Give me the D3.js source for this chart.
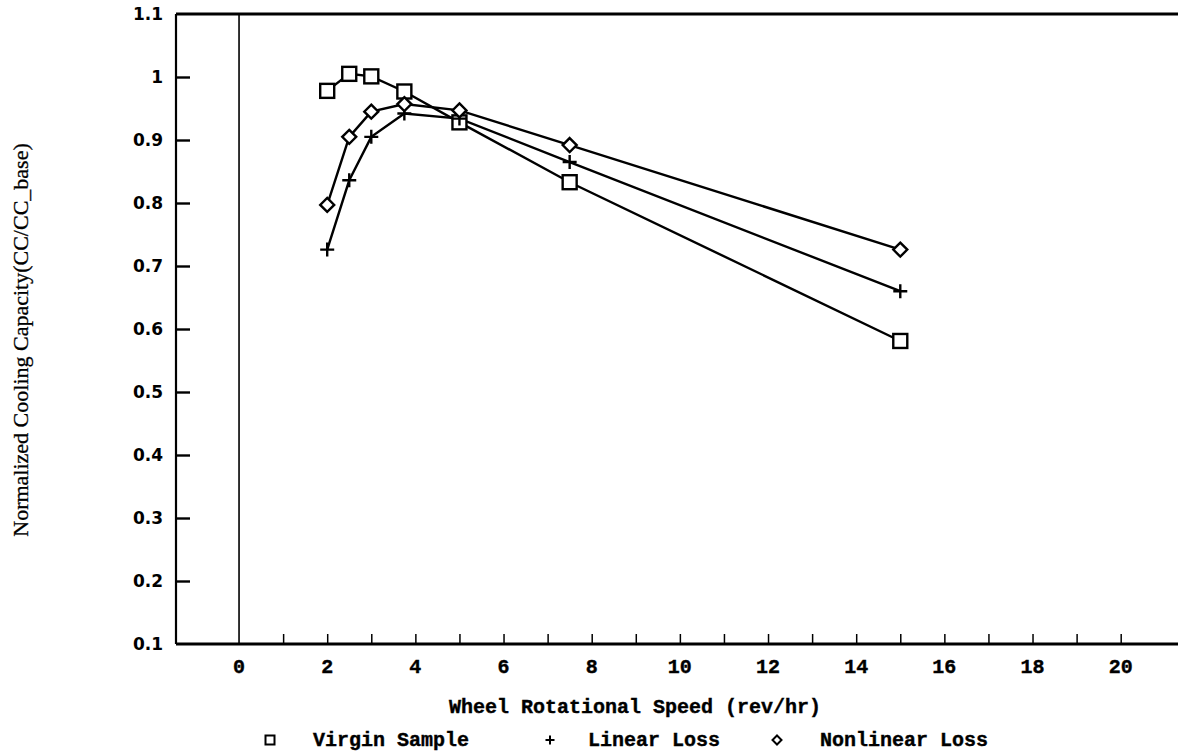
<!DOCTYPE html>
<html>
<head>
<meta charset="utf-8">
<script src="https://cdn.jsdelivr.net/npm/d3@7"></script>
<style>
  body { margin: 0; background: #fff; }
  .mono { font-family: "Liberation Mono", "Courier New", monospace; font-weight: bold; stroke: #000; stroke-width: 0.4px; }
</style>
</head>
<body>
<script>
var width = 1178,
    height = 755;

/* ============================ DATA ============================ */
var speeds = [2, 2.5, 3, 3.75, 5, 7.5, 15];
var virgin = [0.978, 1.005, 1.001, 0.977, 0.928, 0.833, 0.581];
var linearLoss = [0.726, 0.836, 0.905, 0.942, 0.934, 0.865, 0.660];
var nonlinearLoss = [0.797, 0.905, 0.945, 0.957, 0.947, 0.892, 0.726];

var xTicks = [0, 2, 4, 6, 8, 10, 12, 14, 16, 18, 20];
var xMinor = [1, 2, 3, 4, 5, 6, 7, 8, 9, 10, 11, 12, 13, 14, 15, 16, 17, 18, 19, 20];
var yTicks = [0.1, 0.2, 0.3, 0.4, 0.5, 0.6, 0.7, 0.8, 0.9, 1, 1.1];

var series = [
  {name: 'Virgin Sample', values: virgin, marker: 'square'},
  {name: 'Linear Loss', values: linearLoss, marker: 'plus'},
  {name: 'Nonlinear Loss', values: nonlinearLoss, marker: 'diamond'}
];

/* ============================ SCALES ============================ */
var x = d3.scaleLinear().domain([-1.43, 21.3]).range([176, 1178]);
var y = d3.scaleLinear().domain([0.1, 1.1]).range([644, 14]);

var svg = d3.select('body').append('svg')
    .attr('width', width)
    .attr('height', height);

/* ============================ AXES ============================ */
// top frame line
svg.append('line')
    .attr('x1', x.range()[0]).attr('x2', x.range()[1])
    .attr('y1', y(1.1)).attr('y2', y(1.1))
    .style('stroke', '#000').style('stroke-width', 2.8);

// zero line
svg.append('line')
    .attr('x1', x(0)).attr('x2', x(0))
    .attr('y1', y(1.1)).attr('y2', y(0.1))
    .style('stroke', '#000').style('stroke-width', 1.6);

var yAxis = d3.axisRight(y)
    .tickValues(yTicks.filter(d => d > 0.15 && d < 1.05))
    .tickSize(14)
    .tickFormat('');
svg.append('g')
    .attr('transform', 'translate(' + x.range()[0] + ',0)')
    .call(yAxis)
    .call(g => g.select('.domain').remove())
    .call(g => g.selectAll('.tick line').style('stroke-width', 2.4));

svg.append('line')
    .attr('x1', x.range()[0]).attr('x2', x.range()[0])
    .attr('y1', y(1.1)).attr('y2', y(0.1))
    .style('stroke', '#000').style('stroke-width', 2.2);

svg.selectAll('.ylab')
    .data(yTicks)
  .enter().append('text')
    .attr('class', 'ylab')
    .attr('x', 163)
    .attr('y', d => y(d))
    .attr('dy', '0.36em')
    .attr('text-anchor', 'end')
    .style('font-family', '"DejaVu Sans", Verdana, sans-serif')
    .style('font-weight', 'bold')
    .style('font-size', '17px')
    .text(d => d3.format('~g')(d));

var xAxis = d3.axisTop(x)
    .tickValues(xMinor)
    .tickSize(10)
    .tickFormat('');
svg.append('g')
    .attr('transform', 'translate(0,' + y(0.1) + ')')
    .call(xAxis)
    .call(g => g.select('.domain').remove())
    .call(g => g.selectAll('.tick line').style('stroke-width', 1.5));

svg.append('line')
    .attr('x1', x.range()[0]).attr('x2', x.range()[1])
    .attr('y1', y(0.1)).attr('y2', y(0.1))
    .style('stroke', '#000').style('stroke-width', 2.8);

svg.selectAll('.xlab')
    .data(xTicks)
  .enter().append('text')
    .attr('class', 'xlab mono')
    .attr('x', d => x(d))
    .attr('y', 673)
    .attr('text-anchor', 'middle')
    .style('font-size', '20px')
    .text(d => d);

svg.append('text')
    .attr('class', 'mono')
    .attr('x', 635)
    .attr('y', 713)
    .attr('text-anchor', 'middle')
    .style('font-size', '20px')
    .text('Wheel Rotational Speed (rev/hr)');

svg.append('text')
    .attr('transform', 'translate(28,340) rotate(-90)')
    .attr('text-anchor', 'middle')
    .style('font-family', '"Liberation Serif", "Times New Roman", serif')
    .style('font-size', '22px')
    .style('stroke', '#000')
    .style('stroke-width', '0.3px')
    .text('Normalized Cooling Capacity(CC/CC_base)');

/* ============================ SERIES ============================ */
function drawMarker(g, type, s, w) {
  var h = s / 2;
  if (type == 'square') {
    g.append('rect')
        .attr('x', -h).attr('y', -h)
        .attr('width', s).attr('height', s)
        .style('fill', '#fff').style('stroke', '#000').style('stroke-width', w);
  } else if (type == 'diamond') {
    g.append('path')
        .attr('d', 'M0,' + (-h) + 'L' + h + ',0L0,' + h + 'L' + (-h) + ',0Z')
        .style('fill', '#fff').style('stroke', '#000').style('stroke-width', w);
  } else {
    g.append('path')
        .attr('d', 'M' + (-h) + ',0H' + h + 'M0,' + (-h) + 'V' + h)
        .style('fill', 'none').style('stroke', '#000').style('stroke-width', w);
  }
}

var line = d3.line()
    .x(d => x(d[0]))
    .y(d => y(d[1]));

series.forEach(function(s) {
  var pts = speeds.map((v, i) => [v, s.values[i]]);
  svg.append('path')
      .datum(pts)
      .attr('d', line)
      .style('fill', 'none')
      .style('stroke', '#000')
      .style('stroke-width', 2.4);
});

series.forEach(function(s) {
  var pts = speeds.map((v, i) => [v, s.values[i]]);
  svg.selectAll(null)
      .data(pts)
    .enter().append('g')
      .attr('transform', d => 'translate(' + [x(d[0]), y(d[1])] + ')')
      .each(function() { drawMarker(d3.select(this), s.marker, s.marker == 'square' ? 14 : 14, 2.4); });
});

/* ============================ LEGEND ============================ */
var legendPos = [{mx: 270, tx: 313}, {mx: 550, tx: 588}, {mx: 777, tx: 820}];

series.forEach(function(s, i) {
  var g = svg.append('g')
      .attr('transform', 'translate(' + [legendPos[i].mx, 740] + ')');
  drawMarker(g, s.marker, 9, 2);
  svg.append('text')
      .attr('class', 'mono')
      .attr('x', legendPos[i].tx)
      .attr('y', 746)
      .style('font-size', '20px')
      .text(s.name);
});
</script>
</body>
</html>
